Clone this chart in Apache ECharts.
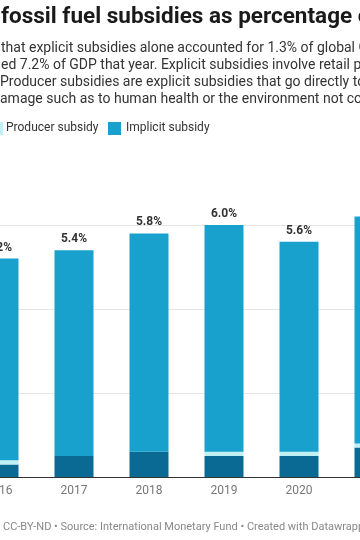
<!DOCTYPE html>
<html>
<head>
<meta charset="utf-8">
<script src="https://cdn.jsdelivr.net/npm/echarts@6/dist/echarts.min.js"></script>
<style>
html,body{margin:0;padding:0;background:#fff;}
#c{width:360px;height:540px;}
</style>
</head>
<body>
<div id="c"></div>
<script>
const years = ['2016', '2017', '2018', '2019', '2020', '2021'];
const consumerSubsidy = [0.3, 0.5, 0.6, 0.5, 0.5, 0.7];
const producerSubsidy = [0.1, 0.0, 0.0, 0.1, 0.1, 0.1];
const implicitSubsidy = [4.8, 4.9, 5.2, 5.4, 5.0, 5.4];
const totalLabels = ['5.2%', '5.4%', '5.8%', '6.0%', '5.6%', '6.2%'];
const yTicks = [0, 2, 4, 6];

const titleText = 'fossil fuel subsidies as percentage of GDP';
const subtitleLines = [
  'that explicit subsidies alone accounted for 1.3% of global GDP in 2022',
  'ed 7.2% of GDP that year. Explicit subsidies involve retail prices',
  'Producer subsidies are explicit subsidies that go directly to producers',
  'amage such as to human health or the environment not covered'
];
const legendNames = ['Producer subsidy', 'Implicit subsidy'];
const footerText = 'CC-BY-ND \u2022 Source: International Monetary Fund \u2022 Created with Datawrapper';

const C_CONS = '#0a6a93';
const C_PROD = '#bff0f3';
const C_IMPL = '#18a1cd';
const FONT = 'Roboto, "Noto Sans", sans-serif';

const chart = echarts.init(document.getElementById('c'), null, {renderer: 'canvas'});

const graphics = [
  {type: 'text', left: 1, top: 6, style: {text: titleText, font: 'bold 22.5px ' + FONT, fill: '#1a1a1a'}},
];
const subY = [41, 58, 75, 92];
subtitleLines.forEach((t, i) => {
  graphics.push({type: 'text', left: i >= 2 ? 0 : 1, top: subY[i], style: {text: t, font: '14px ' + FONT, fill: '#333'}});
});
// legend
graphics.push({type: 'rect', shape: {x: -10, y: 122, width: 13, height: 13}, style: {fill: C_PROD}});
graphics.push({type: 'text', left: 6, top: 121.5, style: {text: legendNames[0], font: '12px ' + FONT, fill: '#333'}});
graphics.push({type: 'rect', shape: {x: 108, y: 122, width: 13, height: 13}, style: {fill: C_IMPL}});
graphics.push({type: 'text', left: 126, top: 121.5, style: {text: legendNames[1], font: '12px ' + FONT, fill: '#333'}});
graphics.push({type: 'text', left: 3, top: 521.5, style: {text: footerText, font: '11px ' + FONT, fill: '#888'}});

chart.setOption({
  animation: false,
  textStyle: {fontFamily: FONT},
  graphic: graphics,
  grid: {left: -38.5, width: 450, top: 183, height: 294, containLabel: false, outerBoundsMode: 'none'},
  xAxis: {
    type: 'category',
    data: years,
    axisLine: {lineStyle: {color: '#333', width: 1}},
    axisTick: {show: false},
    axisLabel: {color: '#777', fontSize: 12, margin: 8, fontFamily: FONT}
  },
  yAxis: {
    type: 'value',
    min: yTicks[0],
    max: 7,
    interval: 2,
    axisLine: {show: false},
    axisTick: {show: false},
    axisLabel: {show: false},
    splitLine: {show: true, showMaxLine: false, lineStyle: {color: '#e6e6e6', width: 1}}
  },
  series: [
    {name: 'Consumer subsidy', type: 'bar', stack: 's', barWidth: 39, data: consumerSubsidy, itemStyle: {color: C_CONS}},
    {name: legendNames[0], type: 'bar', stack: 's', barWidth: 39, data: producerSubsidy, itemStyle: {color: C_PROD}},
    {name: legendNames[1], type: 'bar', stack: 's', barWidth: 39, data: implicitSubsidy, itemStyle: {color: C_IMPL},
      label: {show: true, position: 'top', distance: 5, fontSize: 12, fontWeight: 'bold', color: '#333', fontFamily: FONT,
        formatter: p => totalLabels[p.dataIndex]}}
  ]
});
</script>
</body>
</html>
